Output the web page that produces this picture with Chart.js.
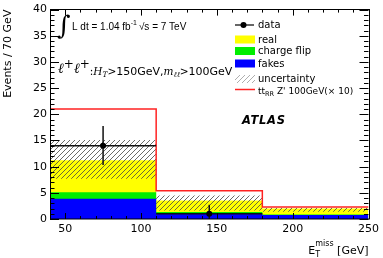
<!DOCTYPE html>
<html><head><meta charset="utf-8">
<script src="https://cdn.jsdelivr.net/npm/chart.js@4"></script>
<style>html,body{margin:0;padding:0;background:#fff;overflow:hidden}#c{display:block}</style>
</head><body>
<canvas id="c" width="383" height="258"></canvas>
<script>
// ---- data ----
const binEdges = [40, 110, 180, 250];
const fakes = [3.85, 1.05, 0.75];
const chargeFlip = [1.25, 0.3, 0.1];
const real = [6.1, 2.2, 1.15];
const uncDown = [7.7, 1.6, 1.4];
const uncUp = [15.1, 4.5, 2.1];
const signalPlusBkg = [21.0, 5.4, 2.3];
const dataX = [75, 145];
const dataY = [14, 1];
const dataErrLo = [3.7, 1.0];
const dataErrHi = [3.75, 1.7];
const xTicks = [50, 100, 150, 200, 250];
const yTicks = [0, 5, 10, 15, 20, 25, 30, 35, 40];

function steps(vals) {
  const pts = [];
  vals.forEach((v, i) => { pts.push({x: binEdges[i], y: v}); pts.push({x: binEdges[i + 1], y: v}); });
  return pts;
}
const cumBlue = fakes.slice();
const cumGreen = fakes.map((v, i) => v + chargeFlip[i]);
const cumYellow = cumGreen.map((v, i) => v + real[i]);

function hatch(color, lw) {
  const s = 5, c = document.createElement('canvas');
  c.width = s; c.height = s;
  const g = c.getContext('2d');
  g.strokeStyle = color; g.lineWidth = lw;
  g.beginPath();
  g.moveTo(0, s); g.lineTo(s, 0);
  g.moveTo(-1, 1); g.lineTo(1, -1);
  g.moveTo(s - 1, s + 1); g.lineTo(s + 1, s - 1);
  g.stroke();
  return document.getElementById('c').getContext('2d').createPattern(c, 'repeat');
}
const hatchPat = hatch('#444', 0.8);
const hatchPatLight = hatch('#999', 0.8);

const RED = '#f22';
const SANS = 'DejaVu Sans';

const base = {pointRadius: 0, borderWidth: 0, tension: 0, showLine: true};
const datasets = [
  {label: 'data', data: dataX.map((x, i) => ({x, y: dataY[i]})), showLine: false, pointRadius: 3,
   pointBackgroundColor: '#000', pointBorderColor: '#000', pointBorderWidth: 0, order: 0},
  {...base, label: 'signal', data: steps(signalPlusBkg), borderColor: RED, borderWidth: 1.5, fill: false, order: 1},
  {...base, label: 'uncUp', data: steps(uncUp), fill: 3, backgroundColor: hatchPat, order: 2},
  {...base, label: 'uncDown', data: steps(uncDown), fill: false, order: 3},
  {...base, label: 'fakes', data: steps(cumBlue), fill: 'origin', backgroundColor: '#0000ff', order: 4},
  {...base, label: 'charge flip', data: steps(cumGreen), fill: 'origin', backgroundColor: '#00ee00', order: 5},
  {...base, label: 'real', data: steps(cumYellow), fill: 'origin', backgroundColor: '#ffff00', order: 6}
];

function runs(ctx, x, y, list) {
  list.forEach(r => {
    ctx.font = r.f;
    ctx.fillText(r.t, x, y + (r.dy || 0));
    x += ctx.measureText(r.t).width + (r.gap || 0);
  });
  return x;
}

const overlay = {
  id: 'overlay',
  beforeDatasetDraw(chart, args) {
    if (args.index !== 0) return;
    const ctx = chart.ctx, xs = chart.scales.x, ys = chart.scales.y;
    ctx.save();
    ctx.strokeStyle = '#111'; ctx.lineWidth = 1.5;
    dataX.forEach((x, i) => {
      const bin = binEdges.findIndex((e, j) => x >= e && x < binEdges[j + 1]);
      const px = xs.getPixelForValue(x), py = ys.getPixelForValue(dataY[i]);
      ctx.beginPath();
      ctx.moveTo(xs.getPixelForValue(binEdges[bin]), py);
      ctx.lineTo(xs.getPixelForValue(binEdges[bin + 1]), py);
      ctx.moveTo(px, ys.getPixelForValue(dataY[i] - dataErrLo[i]));
      ctx.lineTo(px, ys.getPixelForValue(dataY[i] + dataErrHi[i]));
      ctx.stroke();
    });
    ctx.restore();
  },
  afterDatasetsDraw(chart) {
    const ctx = chart.ctx, a = chart.chartArea, xs = chart.scales.x, ys = chart.scales.y;
    ctx.save();
    ctx.strokeStyle = '#000'; ctx.lineWidth = 1;
    ctx.beginPath();
    for (let v = 0; v <= 40; v += 1) {
      const y = Math.round(ys.getPixelForValue(v)) + 0.5;
      const L = v % 5 === 0 ? 9 : 4.5;
      ctx.moveTo(a.left, y); ctx.lineTo(a.left + L, y);
      ctx.moveTo(a.right, y); ctx.lineTo(a.right - L, y);
    }
    for (let v = 40; v <= 250; v += 10) {
      const x = Math.round(xs.getPixelForValue(v)) + 0.5;
      const L = v % 50 === 0 ? 6 : 3;
      ctx.moveTo(x, a.bottom); ctx.lineTo(x, a.bottom - L);
      ctx.moveTo(x, a.top); ctx.lineTo(x, a.top + L);
    }
    ctx.stroke();
    ctx.strokeRect(Math.round(a.left) + 0.5, Math.round(a.top) - 0.5, Math.round(a.right - a.left), Math.round(a.bottom - a.top) + 0.5);
    ctx.restore();
  },
  afterDraw(chart) {
    const ctx = chart.ctx, a = chart.chartArea;
    ctx.save();
    ctx.fillStyle = '#000';
    ctx.textBaseline = 'alphabetic';
    // axis titles
    ctx.save();
    ctx.translate(11, a.top);
    ctx.rotate(-Math.PI / 2);
    ctx.font = '11px ' + SANS;
    ctx.textAlign = 'right';
    ctx.fillText('Events / 70 GeV', 0, 0);
    ctx.restore();
    ctx.textAlign = 'left';
    ctx.font = '11px ' + SANS;
    const gw = ctx.measureText(' [GeV]').width;
    ctx.font = '8px ' + SANS;
    const mw = ctx.measureText('miss').width;
    ctx.font = '11px ' + SANS;
    const ew = ctx.measureText('E').width;
    let x0 = a.right - gw - mw - ew;
    ctx.fillText('E', x0, 254);
    ctx.font = '8px ' + SANS;
    ctx.fillText('T', x0 + ew, 257);
    ctx.fillText('miss', x0 + ew, 246);
    ctx.font = '11px ' + SANS;
    ctx.fillText(' [GeV]', x0 + ew + mw, 254);

    // luminosity line
    ctx.font = '26px "DejaVu Serif"';
    ctx.fillText('\u222B', 57, 34);
    runs(ctx, 72, 30, [
      {t: 'L dt = 1.04 fb', f: '10px "Liberation Sans"'},
      {t: '-1', f: '7px "Liberation Sans"', dy: -5, gap: 2},
      {t: '\u221As = 7 TeV', f: '10px "Liberation Sans"'}
    ]);
    // selection line
    runs(ctx, 58, 73, [
      {t: '\u2113', f: 'italic 14px "DejaVu Serif"'},
      {t: '+', f: '12px "DejaVu Serif"', dy: -5},
      {t: '\u2113', f: 'italic 14px "DejaVu Serif"'},
      {t: '+', f: '12px "DejaVu Serif"', dy: -5},
      {t: ':', f: '10.5px "DejaVu Serif"', dy: 2},
      {t: 'H', f: 'italic 10.5px "DejaVu Serif"', dy: 2},
      {t: 'T', f: 'italic 7.5px "DejaVu Serif"', dy: 4},
      {t: '>', f: '10.5px "DejaVu Serif"', dy: 2},
      {t: '150GeV,', f: '11px ' + SANS, dy: 2},
      {t: 'm', f: 'italic 10.5px "DejaVu Serif"', dy: 2},
      {t: '\u2113\u2113', f: 'italic 7.5px "DejaVu Serif"', dy: 4},
      {t: '>', f: '10.5px "DejaVu Serif"', dy: 2},
      {t: '100GeV', f: '11px ' + SANS, dy: 2}
    ]);
    // ATLAS
    ctx.font = 'italic bold 11.5px ' + SANS;
    ctx.letterSpacing = '0.7px';
    ctx.fillText('ATLAS', 242, 124);
    ctx.letterSpacing = '0px';

    // legend
    const lx = 235, lw = 19, tx = 258;
    const rows = [25, 39.5, 51, 63.5, 79, 89.5];
    ctx.font = '10px ' + SANS;
    ctx.textBaseline = 'middle';
    // data
    ctx.strokeStyle = '#000'; ctx.lineWidth = 1.2;
    ctx.beginPath(); ctx.moveTo(lx, rows[0]); ctx.lineTo(lx + lw, rows[0]); ctx.stroke();
    ctx.beginPath(); ctx.arc(lx + lw / 2 - 1, rows[0], 3, 0, 2 * Math.PI); ctx.fill();
    ctx.fillText('data', tx, rows[0] + 0.5);
    const boxes = [['#ffff00', 'real'], ['#00ee00', 'charge flip'], ['#0000ff', 'fakes']];
    boxes.forEach((b, i) => {
      const y = rows[i + 1];
      ctx.fillStyle = b[0]; ctx.fillRect(lx, y - 4, lw + 1, 8);
      ctx.fillStyle = '#000'; ctx.fillText(b[1], tx, y + 0.5);
    });
    ctx.fillStyle = hatchPatLight; ctx.fillRect(lx, rows[4] - 4, lw + 1, 8);
    ctx.fillStyle = '#000'; ctx.fillText('uncertainty', tx, rows[4] + 0.5);
    ctx.strokeStyle = RED; ctx.lineWidth = 1.5;
    ctx.beginPath(); ctx.moveTo(lx, rows[5]); ctx.lineTo(lx + lw + 1, rows[5]); ctx.stroke();
    ctx.textBaseline = 'alphabetic';
    runs(ctx, tx, rows[5] + 4, [
      {t: 'tt', f: '9px ' + SANS},
      {t: 'RR', f: '6.5px ' + SANS, dy: 2},
      {t: ' Z\' 100GeV(\u00D7 10)', f: '9px ' + SANS}
    ]);
    ctx.restore();
  }
};

new Chart(document.getElementById('c'), {
  type: 'line',
  data: {datasets},
  plugins: [overlay],
  options: {
    responsive: false,
    animation: false,
    devicePixelRatio: 1,
    layout: {padding: {top: 5, right: 10, left: 0, bottom: 0}},
    plugins: {legend: {display: false}, tooltip: {enabled: false}},
    elements: {line: {tension: 0}},
    scales: {
      x: {
        type: 'linear', min: 40, max: 250,
        afterBuildTicks: s => { s.ticks = xTicks.map(v => ({value: v})); },
        afterFit: s => { s.height = 39; },
        grid: {display: false, drawTicks: false},
        border: {display: false},
        ticks: {color: '#000', padding: 4, font: {family: SANS, size: 11}, maxRotation: 0}
      },
      y: {
        type: 'linear', min: 0, max: 40,
        afterBuildTicks: s => { s.ticks = yTicks.map(v => ({value: v})); },
        afterFit: s => { s.width = 50; },
        grid: {display: false, drawTicks: false},
        border: {display: false},
        ticks: {color: '#000', padding: 3, font: {family: SANS, size: 11}}
      }
    }
  }
});
</script>
</body></html>
